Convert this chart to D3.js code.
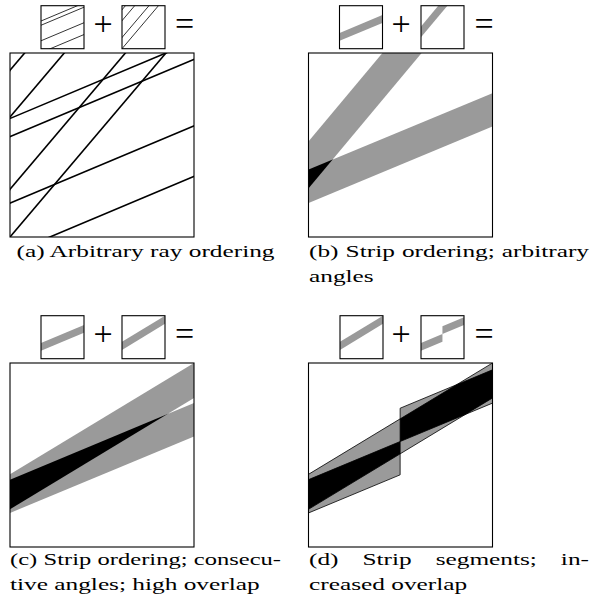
<!DOCTYPE html>
<html><head><meta charset="utf-8">
<script src="https://cdn.jsdelivr.net/npm/d3@7"></script>
<style>html,body{margin:0;padding:0;background:#fff}</style>
</head><body>
<svg id="fig" width="592" height="596"></svg>
<script>
// ---------- data (unit square coordinates, v = intercept + slope*u) ----------
const rayGentleSlope = 0.42;
const rayGentleIntercepts = [0.644, 0.545, 0.184, -0.091];
const raySteepSlope = 1.18;
const raySteepIntercepts = [0.906, 0.652, 0.26, 0.0];
// strips: [slope, lowerIntercept, upperIntercept, uStart, uEnd]
const stripGentle = [0.416, 0.185, 0.366, 0, 1];
const stripSteep = [1.197, 0.264, 0.519, 0, 1];
const stripConsecutive = [0.605, 0.205, 0.395, 0, 1];
const segmentLeft = [0.416, 0.185, 0.366, 0, 0.498];
const segmentRight = [0.416, 0.366, 0.547, 0.498, 1];
const captionLabels = ["(a)", "(b)", "(c)", "(d)"];
const captionTexts = [
  ["Arbitrary ray ordering"],
  ["Strip ordering; arbitrary", "angles"],
  ["Strip ordering; consecu-", "tive angles; high overlap"],
  ["Strip segments; in-", "creased overlap"]
];

// ---------- layout ----------
const FONT = "'Liberation Serif', 'DejaVu Serif', serif";
const FS = 16;
const GRAY = "#9a9a9a";
const BOX = 184, ICON = 43;
const panels = [
  {box:[10,53],    icons:[[41,5.7],[122,5.7]],   plus:[103,26.7], eq:[184.5,26.7], col:[10,281],  base:257},
  {box:[308.5,53], icons:[[339.5,5.7],[421,5.7]], plus:[401,26.7], eq:[484,26.7],   col:[309,589], base:257},
  {box:[10,363],   icons:[[41,315.7],[122,315.7]], plus:[103,336.7], eq:[184.5,336.7], col:[10,281], base:565},
  {box:[308.5,363],icons:[[340,315.7],[421,315.7]],plus:[401,336.7], eq:[484,336.7], col:[309,589], base:565}
];
const LINE_GAP = 25;

const svg = d3.select("#fig");
const defs = svg.append("defs");
let uid = 0;

function frame(x0, y0, size) {
  const xs = d3.scaleLinear().domain([0,1]).range([x0, x0+size]);
  const ys = d3.scaleLinear().domain([0,1]).range([y0+size, y0]);
  const id = "clip" + (uid++);
  defs.append("clipPath").attr("id", id).append("rect")
    .attr("x", x0).attr("y", y0).attr("width", size).attr("height", size);
  const g = svg.append("g").attr("clip-path", `url(#${id})`);
  return {xs, ys, g, x0, y0, size};
}
function border(f) {
  svg.append("rect").attr("x", f.x0).attr("y", f.y0).attr("width", f.size).attr("height", f.size)
    .attr("fill", "none").attr("stroke", "#000").attr("stroke-width", 1.1);
}
function lineGen(f) { return d3.line().x(d => f.xs(d[0])).y(d => f.ys(d[1])); }
function rays(f, slope, intercepts, sw) {
  const lg = lineGen(f);
  f.g.selectAll(null).data(intercepts).join("path")
    .attr("d", c => lg([[-0.3, c - 0.3*slope], [1.3, c + 1.3*slope]]))
    .attr("fill", "none").attr("stroke", "#000").attr("stroke-width", sw);
}
function stripPath(f, s) {
  const [k, lo, up, u0, u1] = s;
  const a = u0 === 0 ? -0.3 : u0, b = u1 === 1 ? 1.3 : u1;
  return lineGen(f)([[a, lo+k*a], [b, lo+k*b], [b, up+k*b], [a, up+k*a]]) + "Z";
}
function strips(f, list, fill) {
  return f.g.selectAll(null).data(list).join("path")
    .attr("d", s => stripPath(f, s)).attr("fill", fill);
}
function outline(f, list) {
  f.g.selectAll(null).data(list).join("path")
    .attr("d", s => stripPath(f, s)).attr("fill", "none")
    .attr("stroke", "#000").attr("stroke-width", 0.8);
}
function overlap(f, subject, clipList) {
  const id = "isect" + (uid++);
  defs.append("clipPath").attr("id", id).selectAll("path").data(clipList).join("path")
    .attr("d", s => stripPath(f, s));
  f.g.append("path").attr("d", stripPath(f, subject)).attr("fill", "#000")
    .attr("clip-path", `url(#${id})`);
}
function symbols(p) {
  svg.append("text").attr("x", p.plus[0]).attr("y", p.plus[1] + 8.6)
    .attr("text-anchor", "middle").attr("font-family", FONT).attr("font-size", 34).text("+");
  svg.append("text").attr("x", p.eq[0]).attr("y", p.eq[1] + 8.7)
    .attr("text-anchor", "middle").attr("font-family", FONT).attr("font-size", 34).text("=");
}

// ---------- panel (a) ----------
{
  const p = panels[0];
  const i1 = frame(p.icons[0][0], p.icons[0][1], ICON); rays(i1, rayGentleSlope, rayGentleIntercepts, 0.8); border(i1);
  const i2 = frame(p.icons[1][0], p.icons[1][1], ICON); rays(i2, raySteepSlope, raySteepIntercepts, 0.8); border(i2);
  const m = frame(p.box[0], p.box[1], BOX);
  rays(m, rayGentleSlope, rayGentleIntercepts, 1.6);
  rays(m, raySteepSlope, raySteepIntercepts, 1.6);
  border(m); symbols(p);
}
// ---------- panel (b) ----------
{
  const p = panels[1];
  const i1 = frame(p.icons[0][0], p.icons[0][1], ICON); strips(i1, [stripGentle], GRAY); border(i1);
  const i2 = frame(p.icons[1][0], p.icons[1][1], ICON); strips(i2, [stripSteep], GRAY); border(i2);
  const m = frame(p.box[0], p.box[1], BOX);
  strips(m, [stripSteep, stripGentle], GRAY);
  overlap(m, stripGentle, [stripSteep]);
  border(m); symbols(p);
}
// ---------- panel (c) ----------
{
  const p = panels[2];
  const i1 = frame(p.icons[0][0], p.icons[0][1], ICON); strips(i1, [stripGentle], GRAY); border(i1);
  const i2 = frame(p.icons[1][0], p.icons[1][1], ICON); strips(i2, [stripConsecutive], GRAY); border(i2);
  const m = frame(p.box[0], p.box[1], BOX);
  strips(m, [stripConsecutive, stripGentle], GRAY);
  overlap(m, stripGentle, [stripConsecutive]);
  border(m); symbols(p);
}
// ---------- panel (d) ----------
{
  const p = panels[3];
  const i1 = frame(p.icons[0][0], p.icons[0][1], ICON); strips(i1, [stripConsecutive], GRAY); border(i1);
  const i2 = frame(p.icons[1][0], p.icons[1][1], ICON); strips(i2, [segmentLeft, segmentRight], GRAY); border(i2);
  const m = frame(p.box[0], p.box[1], BOX);
  strips(m, [stripConsecutive, segmentLeft, segmentRight], GRAY);
  overlap(m, stripConsecutive, [segmentLeft, segmentRight]);
  outline(m, [stripConsecutive, segmentLeft, segmentRight]);
  border(m); symbols(p);
}

// ---------- captions ----------
function measure(txt) {
  const t = svg.append("text").attr("font-family", FONT).attr("font-size", FS).text(txt);
  const w = t.node().getComputedTextLength(); t.remove(); return w;
}
const SX = 258 / measure(captionLabels[0] + " " + captionTexts[0][0]);
const SPACE = (measure("a b") - measure("ab")) * SX;
function word(txt, x, y, w) {
  if (w === undefined) w = measure(txt) * SX;
  svg.append("text").attr("x", x).attr("y", y).attr("font-family", FONT).attr("font-size", FS)
    .attr("textLength", w).attr("lengthAdjust", "spacingAndGlyphs").attr("fill", "#000").text(txt);
  return w;
}
function justified(txt, x0, x1, y) {
  const ws = txt.split(" ");
  let widths = ws.map(w => measure(w) * SX);
  const avail = x1 - x0 - SPACE * (ws.length - 1);
  const tot = d3.sum(widths);
  if (tot > avail) widths = widths.map(w => w * avail / tot);
  const gap = (x1 - x0 - d3.sum(widths)) / (ws.length - 1);
  let x = x0;
  ws.forEach((w, i) => { word(w, x, y, widths[i]); x += widths[i] + gap; });
}
panels.forEach((p, i) => {
  const first = captionLabels[i] + " " + captionTexts[i][0];
  if (captionTexts[i].length === 1) {
    const w = measure(first) * SX;
    word(first, (p.col[0] + p.col[1]) / 2 - w / 2, p.base);
  } else {
    justified(first, p.col[0], p.col[1], p.base);
    word(captionTexts[i][1], p.col[0], p.base + LINE_GAP);
  }
});
</script>
</body></html>
